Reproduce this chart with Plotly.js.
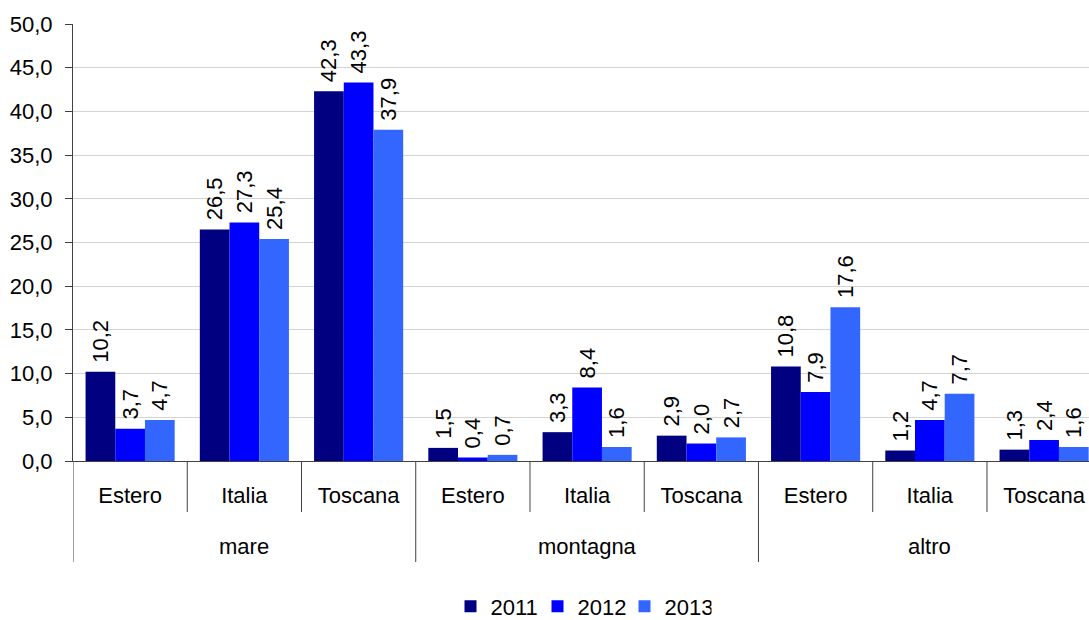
<!DOCTYPE html>
<html>
<head>
<meta charset="utf-8">
<script src="https://cdn.plot.ly/plotly-3.0.1.min.js"></script>
<style>
  html, body { margin: 0; padding: 0; background: #fff; }
  #chart { width: 1089px; height: 620px; }
</style>
</head>
<body>
<div id="chart"></div>
<script>
// Destinations (inner level) grouped by holiday type (outer level)
const groups = ['mare', 'montagna', 'altro'];
const places = ['Estero', 'Italia', 'Toscana'];

// Percentage share per year, in the order mare/Estero ... altro/Toscana
const years = ['2011', '2012', '2013'];
const v2011 = [10.2, 26.5, 42.3, 1.5, 3.3, 2.9, 10.8, 1.2, 1.3];
const v2012 = [3.7, 27.3, 43.3, 0.4, 8.4, 2.0, 7.9, 4.7, 2.4];
const v2013 = [4.7, 25.4, 37.9, 0.7, 1.6, 2.7, 17.6, 7.7, 1.6];
const colors = ['#000080', '#0000ff', '#3366ff'];

const innerLabels = [];
groups.forEach(() => places.forEach(p => innerLabels.push(p)));
const xIdx = innerLabels.map((_, i) => i);

const FONT = 'Liberation Sans, Arial, sans-serif';
const FS = 22;

const traces = [v2011, v2012, v2013].map((vals, k) => ({
  type: 'bar',
  name: years[k],
  x: xIdx,
  y: vals,
  marker: { color: colors[k], line: { width: 0 } },
  // a leading no-break space keeps the rotated value clear of the bar top
  texttemplate: '\u00A0%{y:.1f}',
  textposition: 'outside',
  textangle: -90,
  constraintext: 'none',
  cliponaxis: false,
  textfont: { family: FONT, size: FS, color: '#000' },
  hoverinfo: 'skip'
}));

// Geometry of the category axis below the plot (paper units, plot height 437px)
const innerDivBottom = -51 / 437;
const outerDivBottom = -101 / 437;
const outerLabelY = -85 / 437;

const shapes = [];
const annotations = [];
const lineStyle = { color: '#404040', width: 1 };
for (let i = 0; i < innerLabels.length; i++) {
  const isGroupStart = i % places.length === 0;
  shapes.push({
    type: 'line', xref: 'x', yref: 'paper',
    x0: i - 0.5, x1: i - 0.5, y0: 0, y1: isGroupStart ? outerDivBottom : innerDivBottom,
    line: lineStyle, layer: 'above'
  });
}
groups.forEach((g, gi) => {
  annotations.push({
    xref: 'x', yref: 'paper',
    x: gi * places.length + (places.length - 1) / 2, y: outerLabelY,
    text: g, showarrow: false, xanchor: 'center', yanchor: 'middle',
    font: { family: FONT, size: FS, color: '#000' }
  });
});

const layout = {
  width: 1089, height: 620,
  margin: { l: 73, r: 0, t: 24, b: 159, pad: 0, autoexpand: false },
  paper_bgcolor: '#fff', plot_bgcolor: '#fff',
  separators: ',.',
  font: { family: FONT, size: FS, color: '#000' },
  barmode: 'group',
  bargap: 0.22,
  bargroupgap: 0,
  showlegend: true,
  legend: {
    orientation: 'h', x: 0.5, xanchor: 'center',
    yref: 'container', y: 0.022, yanchor: 'middle',
    font: { family: FONT, size: FS, color: '#000' },
    entrywidth: 42, entrywidthmode: 'pixels', tracegroupgap: 0
  },
  xaxis: {
    range: [-0.5, 8.393],
    tickmode: 'array', tickvals: xIdx, ticktext: innerLabels,
    ticks: '', showgrid: false, zeroline: false,
    showline: true, linecolor: '#404040', linewidth: 1,
    ticklabelstandoff: 15,
    tickfont: { family: FONT, size: FS, color: '#000' },
    automargin: false, fixedrange: true
  },
  yaxis: {
    range: [0, 50], dtick: 5, tick0: 0, tickformat: '.1f',
    ticks: 'outside', ticklen: 7, tickcolor: '#404040',
    showgrid: true, gridcolor: '#d4d4d4', gridwidth: 1,
    zeroline: false, showline: true, linecolor: '#404040', linewidth: 1,
    tickfont: { family: FONT, size: FS, color: '#000' },
    ticklabelstandoff: 8,
    automargin: false, fixedrange: true
  },
  shapes: shapes,
  annotations: annotations
};

Plotly.newPlot('chart', traces, layout, { displayModeBar: false, staticPlot: true });
</script>
</body>
</html>
